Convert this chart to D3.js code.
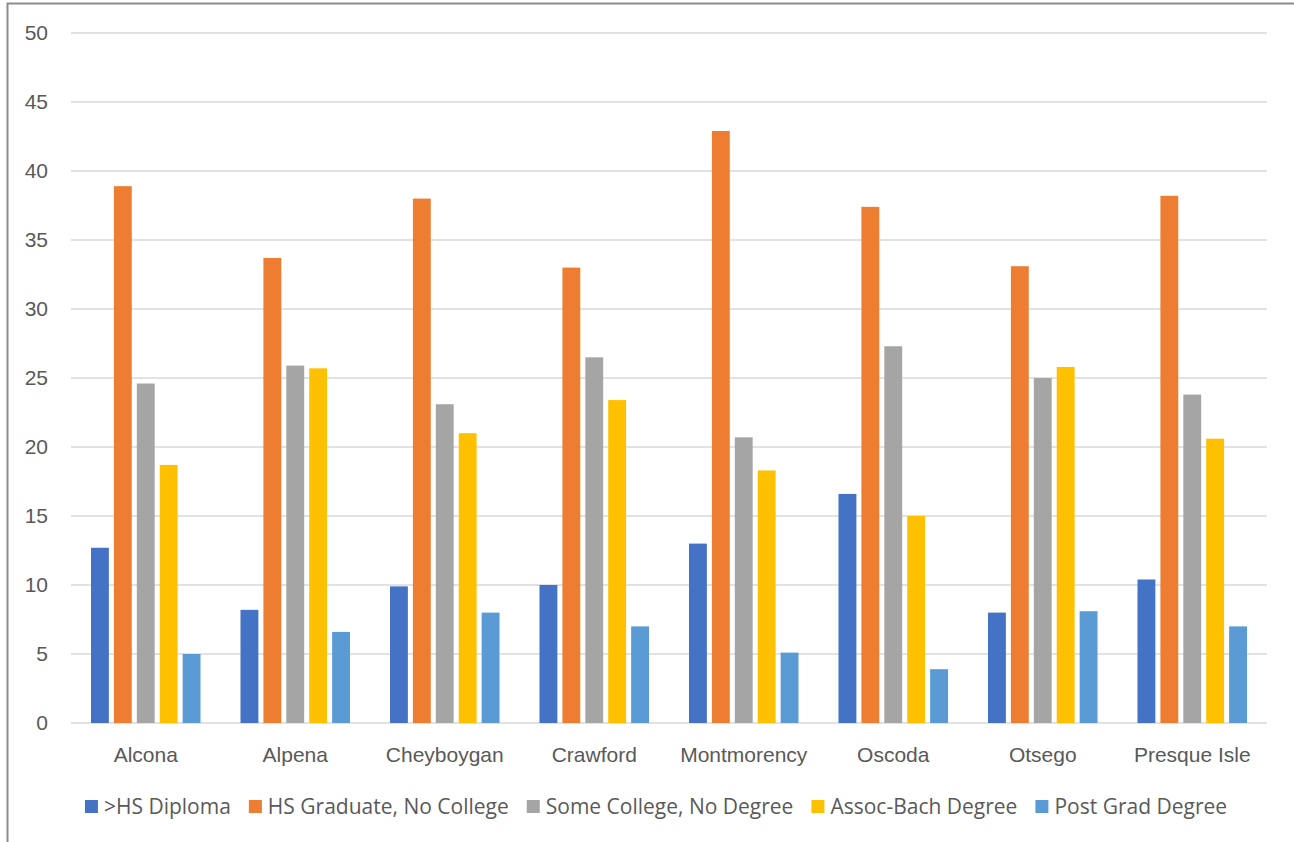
<!DOCTYPE html>
<html>
<head>
<meta charset="utf-8">
<script src="https://cdn.jsdelivr.net/npm/d3@7"></script>
<style>
  body { margin: 0; background: #fff; }
  svg { display: block; font-family: "Open Sans", "Liberation Sans", sans-serif; }
</style>
</head>
<body>
<svg id="chart" width="1294" height="842"></svg>
<script>
// data
const counties = ["Alcona", "Alpena", "Cheyboygan", "Crawford", "Montmorency", "Oscoda", "Otsego", "Presque Isle"];
const seriesNames = [">HS Diploma", "HS Graduate, No College", "Some College, No Degree", "Assoc-Bach Degree", "Post Grad Degree"];
const seriesColors = ["#4472c4", "#ed7d31", "#a5a5a5", "#ffc000", "#5b9bd5"];
const belowHS    = [12.7, 8.2, 9.9, 10.0, 13.0, 16.6, 8.0, 10.4];
const hsGrad     = [38.9, 33.7, 38.0, 33.0, 42.9, 37.4, 33.1, 38.2];
const someColl   = [24.6, 25.9, 23.1, 26.5, 20.7, 27.3, 25.0, 23.8];
const assocBach  = [18.7, 25.7, 21.0, 23.4, 18.3, 15.0, 25.8, 20.6];
const postGrad   = [5.0, 6.6, 8.0, 7.0, 5.1, 3.9, 8.1, 7.0];
const yTicks = [0, 5, 10, 15, 20, 25, 30, 35, 40, 45, 50];

const allSeries = [belowHS, hsGrad, someColl, assocBach, postGrad];
const data = counties.map((c, i) => ({
    county: c,
    values: allSeries.map((s, k) => ({ key: seriesNames[k], value: s[i], k: k }))
}));

const svg = d3.select("#chart");

// outer frame (only top and left edges are in view)
svg.append("rect")
    .attr("x", 7.5).attr("y", 3.5)
    .attr("width", 1400).attr("height", 1000)
    .attr("fill", "none")
    .attr("stroke", "#8c8c8c")
    .attr("stroke-width", 2);

const plotLeft = 71, plotRight = 1267, plotTop = 33, plotBottom = 723;
const fontSize = "21px";

let x0 = d3.scaleBand()
    .domain(counties)
    .range([plotLeft, plotRight])
    .paddingInner(0.2)
    .paddingOuter(0.1);
let x1 = d3.scaleBand()
    .domain(d3.range(seriesNames.length))
    .range([0, x0.bandwidth()])
    .padding(0.22);
let y = d3.scaleLinear()
    .domain([0, 50])
    .range([plotBottom, plotTop]);

// gridlines
svg.append("g")
    .selectAll("line")
    .data(yTicks)
    .join("line")
    .attr("x1", plotLeft).attr("x2", plotRight)
    .attr("y1", d => y(d)).attr("y2", d => y(d))
    .attr("stroke", "#d9d9d9")
    .attr("stroke-width", 1.5);

// y labels
let yAxis = d3.axisLeft(y).tickValues(yTicks).tickSize(0).tickPadding(0);
let yg = svg.append("g")
    .attr("transform", `translate(${plotLeft - 23},0)`)
    .call(yAxis);
yg.select(".domain").remove();
yg.selectAll("text")
    .attr("fill", "#595959")
    .style("font-size", fontSize);

// bars
let groups = svg.append("g")
    .selectAll("g")
    .data(data)
    .join("g")
    .attr("transform", d => `translate(${x0(d.county)},0)`);

groups.selectAll("rect")
    .data(d => d.values)
    .join("rect")
    .attr("x", d => x1(d.k))
    .attr("width", x1.bandwidth())
    .attr("y", d => y(d.value))
    .attr("height", d => y(0) - y(d.value))
    .attr("fill", d => seriesColors[d.k]);

// category labels
let xAxis = d3.axisBottom(x0).tickSize(0).tickPadding(0);
let xg = svg.append("g")
    .attr("transform", `translate(0,${plotBottom + 39})`)
    .call(xAxis);
xg.select(".domain").remove();
xg.selectAll("text")
    .attr("fill", "#595959")
    .attr("dy", 0)
    .style("font-size", fontSize);

// legend
let legend = svg.append("g").attr("transform", "translate(0,807)");
let items = legend.selectAll("g")
    .data(seriesNames)
    .join("g");
items.append("rect")
    .attr("width", 13).attr("height", 13)
    .attr("y", -7)
    .attr("fill", (d, i) => seriesColors[i]);
items.append("text")
    .attr("x", 19)
    .attr("dy", "0.35em")
    .attr("fill", "#595959")
    .style("font-size", fontSize)
    .text(d => d);

let widths = [];
items.each(function() { widths.push(this.getBBox().width); });
let gap = 18;
let total = d3.sum(widths) + gap * (widths.length - 1);
let cx = (plotLeft + plotRight) / 2 - total / 2 - 13;
items.attr("transform", (d, i) => {
    let pos = cx;
    cx += widths[i] + gap;
    return `translate(${pos},0)`;
});
</script>
</body>
</html>
